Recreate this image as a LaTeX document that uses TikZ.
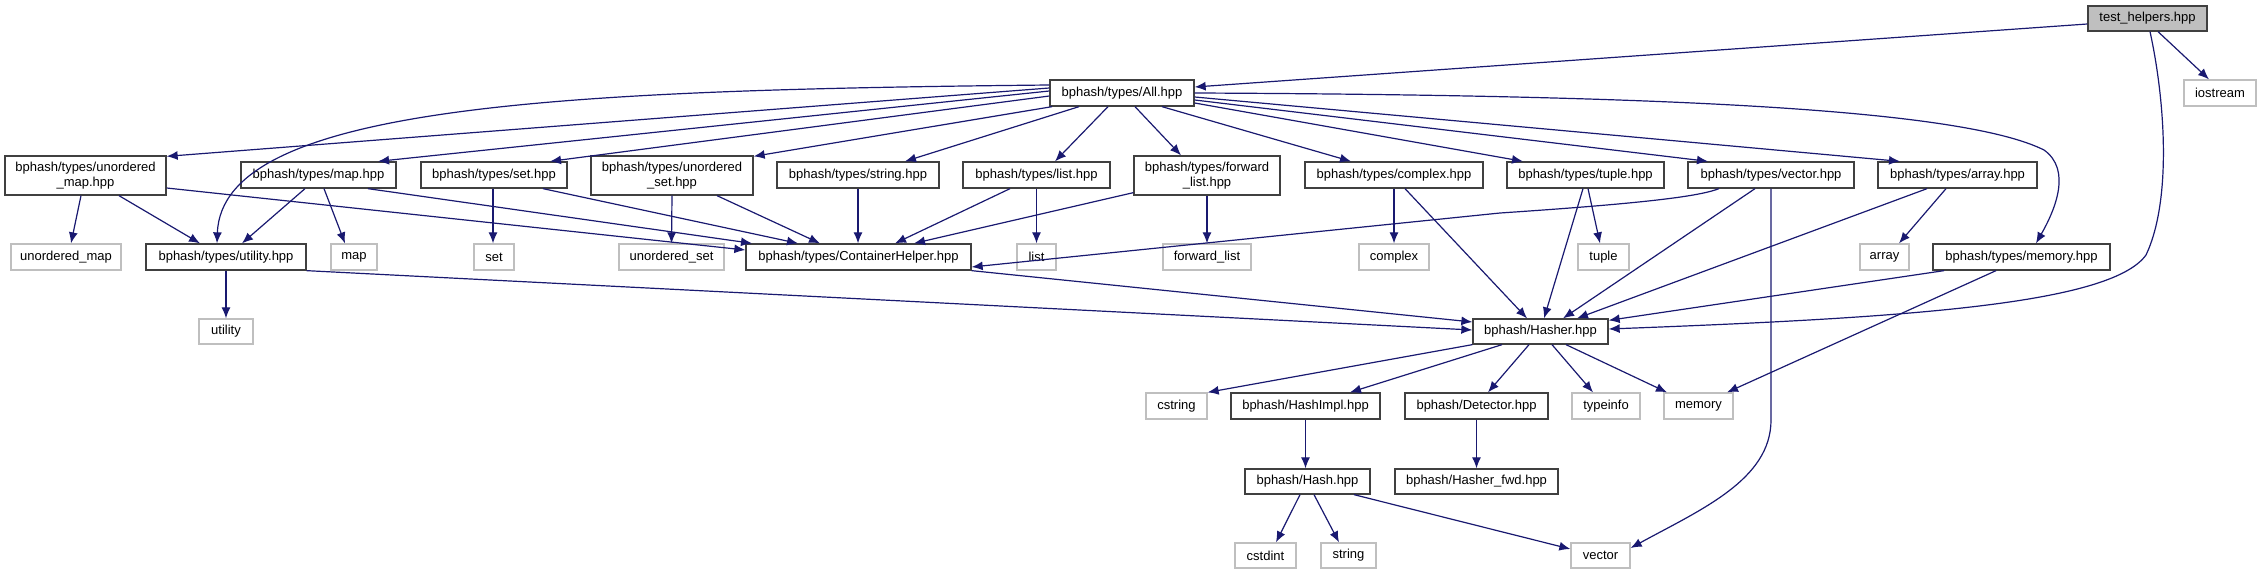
\documentclass[tikz,border=0pt]{standalone}
\usepackage{fontspec}
\setmainfont{Liberation Sans}
\usetikzlibrary{arrows.meta}
\definecolor{edgec}{HTML}{191970}
\definecolor{extc}{HTML}{BFBFBF}
\newcommand\fsz{\fontsize{13pt}{15pt}\selectfont}
\begin{document}
\begin{tikzpicture}[x=1pt,y=-1pt,
  box/.style={draw=black!75, line width=1.3pt, fill=white, inner sep=0pt, minimum height=26pt, align=center, font=\fsz},
  ext/.style={box, draw=extc},
  two/.style={minimum height=39pt},
  rootbox/.style={box, fill=extc},
  e/.style={draw=edgec, line width=1.2pt, -{Latex[length=11pt,width=9pt]}}]
\useasboundingbox (0,0) rectangle (2262,575);
% nodes
\node[rootbox, minimum width=119pt, minimum height=25pt] (root) at (2147.5,18.5) {test\_helpers.hpp};
\node[ext, minimum width=72pt] (iostream) at (2220,93) {iostream};
\node[box, minimum width=144pt] (all) at (1122,93) {bphash/types/All.hpp};
\node[box, two, minimum width=161pt] (umaph) at (85.5,175.5) {bphash/types/unordered\\\_map.hpp};
\node[box, minimum width=155pt] (maph) at (318.5,175) {bphash/types/map.hpp};
\node[box, minimum width=146pt] (seth) at (494,175) {bphash/types/set.hpp};
\node[box, two, minimum width=162pt] (useth) at (672,175.5) {bphash/types/unordered\\\_set.hpp};
\node[box, minimum width=162pt] (stringh) at (858,175) {bphash/types/string.hpp};
\node[box, minimum width=147pt] (listh) at (1036.5,175) {bphash/types/list.hpp};
\node[box, two, minimum width=146pt] (flisth) at (1207,175.5) {bphash/types/forward\\\_list.hpp};
\node[box, minimum width=178pt] (complexh) at (1394,175) {bphash/types/complex.hpp};
\node[box, minimum width=157pt] (tupleh) at (1585.5,175) {bphash/types/tuple.hpp};
\node[box, minimum width=166pt] (vectorh) at (1771,175) {bphash/types/vector.hpp};
\node[box, minimum width=159pt] (arrayh) at (1957.5,175) {bphash/types/array.hpp};
\node[ext, minimum width=110pt] (umap) at (66,257) {unordered\_map};
\node[box, minimum width=160pt] (utilh) at (226,257) {bphash/types/utility.hpp};
\node[ext, minimum width=46pt] (map) at (354,257) {map};
\node[ext, minimum width=40pt] (set) at (494,257) {set};
\node[ext, minimum width=105pt] (uset) at (671.5,257) {unordered\_set};
\node[box, minimum width=225pt] (ch) at (858.5,257) {bphash/types/ContainerHelper.hpp};
\node[ext, minimum width=39pt] (list) at (1036.5,257) {list};
\node[ext, minimum width=88pt] (flist) at (1207,257) {forward\_list};
\node[ext, minimum width=70pt] (complex) at (1394,257) {complex};
\node[ext, minimum width=51pt] (tuple) at (1603.5,257) {tuple};
\node[ext, minimum width=49pt] (array) at (1884.5,257) {array};
\node[box, minimum width=177pt] (memh) at (2021.5,257) {bphash/types/memory.hpp};
\node[ext, minimum width=54pt, minimum height=25pt] (utility) at (226,331.5) {utility};
\node[box, minimum width=135pt, minimum height=25pt] (hasher) at (1540.5,331.5) {bphash/Hasher.hpp};
\node[ext, minimum width=61pt] (cstring) at (1176.5,406) {cstring};
\node[box, minimum width=149pt] (hashimpl) at (1305.5,406) {bphash/HashImpl.hpp};
\node[box, minimum width=143pt] (detector) at (1476.5,406) {bphash/Detector.hpp};
\node[ext, minimum width=68pt] (typeinfo) at (1606,406) {typeinfo};
\node[ext, minimum width=69pt] (memory) at (1698.5,406) {memory};
\node[box, minimum width=125pt, minimum height=25pt] (hash) at (1307.5,481.5) {bphash/Hash.hpp};
\node[box, minimum width=163pt, minimum height=25pt] (hfwd) at (1476.5,481.5) {bphash/Hasher\_fwd.hpp};
\node[ext, minimum width=61pt, minimum height=25pt] (cstdint) at (1265.5,555.5) {cstdint};
\node[ext, minimum width=55pt, minimum height=25pt] (string) at (1348.5,555.5) {string};
\node[ext, minimum width=59pt, minimum height=25pt] (vector) at (1600.5,555.5) {vector};
% edges from root
\draw[e] ([yshift=-5.5pt]root.west) -- ([yshift=6pt]all.east);
\draw[e] ([xshift=10.5pt]root.south) -- ([xshift=-11pt]iostream.north);
\draw[e] ([xshift=2.5pt]root.south) .. controls (2165,100) and (2172,200) .. (2146,255)
  .. controls (2110,305) and (1900,318) .. ([yshift=2.5pt]hasher.east);
% edges from All.hpp
\draw[e] ([yshift=5pt]all.west) -- ([yshift=-1pt]umaph.north east);
\draw[e] ([yshift=8pt]all.west) .. controls (560,90) and (222,105) .. ([xshift=-9pt]utilh.north);
\draw[e] ([yshift=2pt]all.west) -- ([xshift=59.5pt]maph.north);
\draw[e] ([yshift=-3pt]all.west) -- ([xshift=56pt]seth.north);
\draw[e] ([xshift=-70pt]all.south) -- ([yshift=-1pt]useth.north east);
\draw[e] ([xshift=-43pt]all.south) -- ([xshift=47pt]stringh.north);
\draw[e] ([xshift=-14pt]all.south) -- ([xshift=18.5pt]listh.north);
\draw[e] ([xshift=13pt]all.south) -- ([xshift=-26pt]flisth.north);
\draw[e] ([xshift=40pt]all.south) -- ([xshift=-43pt]complexh.north);
\draw[e] ([yshift=-10pt]all.east) -- ([xshift=-62.5pt]tupleh.north);
\draw[e] ([yshift=-7pt]all.east) -- ([xshift=-63pt]vectorh.north);
\draw[e] ([yshift=-4pt]all.east) -- ([xshift=-57.5pt]arrayh.north);
\draw[e] (all.east) .. controls (1650,95) and (1960,108) .. (2044,150)
  .. controls (2072,170) and (2055,210) .. ([xshift=14.5pt]memh.north);
% second level
\draw[e] ([xshift=-4.5pt]umaph.south) -- ([xshift=5pt]umap.north);
\draw[e] ([xshift=33.5pt]umaph.south) -- ([xshift=-26pt]utilh.north);
\draw[e] ([yshift=-12.5pt]umaph.east) -- ([yshift=7pt]ch.west);
\draw[e] ([xshift=-13.5pt]maph.south) -- ([xshift=16pt]utilh.north);
\draw[e] ([xshift=5.5pt]maph.south) -- ([xshift=-9pt]map.north);
\draw[e] ([xshift=49.5pt]maph.south) -- ([xshift=-106.5pt]ch.north);
\draw[e] ([xshift=-1pt]seth.south) -- ([xshift=-1pt]set.north);
\draw[e] ([xshift=49pt]seth.south) -- ([xshift=-60.5pt]ch.north);
\draw[e] (useth.south) -- (uset.north);
\draw[e] ([xshift=45pt]useth.south) -- ([xshift=-38.5pt]ch.north);
\draw[e] (stringh.south) -- (ch.north -| stringh.south);
\draw[e] ([xshift=-26.5pt]listh.south) -- ([xshift=36.5pt]ch.north);
\draw[e] (listh.south) -- (list.north);
\draw[e] ([yshift=3pt]flisth.south west) -- ([xshift=55.5pt]ch.north);
\draw[e] (flisth.south) -- (flist.north);
\draw[e] (complexh.south) -- (complex.north);
\draw[e] ([xshift=11pt]complexh.south) -- ([xshift=-13.5pt]hasher.north);
\draw[e] ([xshift=-2.5pt]tupleh.south) -- ([xshift=3.5pt]hasher.north);
\draw[e] ([xshift=2.5pt]tupleh.south) -- ([xshift=-3.5pt]tuple.north);
\draw[e] ([xshift=-52pt]vectorh.south) .. controls (1700,196) and (1650,203) .. (1500,213) -- ([yshift=-10pt]ch.east);
\draw[e] ([xshift=-16pt]vectorh.south) -- ([xshift=22.5pt]hasher.north);
\draw[e] (vectorh.south) -- (1771,420) .. controls (1771,480) and (1700,510) .. ([yshift=7.5pt]vector.east);
\draw[e] ([xshift=-30.5pt]arrayh.south) -- ([xshift=36.5pt]hasher.north);
\draw[e] ([xshift=-11.5pt]arrayh.south) -- ([xshift=14.5pt]array.north);
\draw[e] ([xshift=-77.5pt]memh.south) -- ([yshift=-2pt]hasher.north east);
\draw[e] ([xshift=-25.5pt]memh.south) -- ([xshift=28.5pt]memory.north);
\draw[e] (utilh.south) -- (utility.north);
\draw[e] (utilh.south east) -- ([yshift=1.5pt]hasher.west);
\draw[e] (ch.south east) -- ([yshift=9.5pt]hasher.west);
% from Hasher
\draw[e] (hasher.south west) -- (cstring.north east);
\draw[e] ([xshift=-38.5pt]hasher.south) -- ([xshift=44.5pt]hashimpl.north);
\draw[e] ([xshift=-11.5pt]hasher.south) -- ([xshift=11.5pt]detector.north);
\draw[e] ([xshift=11.5pt]hasher.south) -- ([xshift=-13pt]typeinfo.north);
\draw[e] ([xshift=25.5pt]hasher.south) -- ([xshift=-31.5pt]memory.north);
\draw[e] (hashimpl.south) -- (hash.north -| hashimpl.south);
\draw[e] (detector.south) -- (hfwd.north);
\draw[e] ([xshift=-7.5pt]hash.south) -- ([xshift=10.5pt]cstdint.north);
\draw[e] ([xshift=6.5pt]hash.south) -- ([xshift=-9.5pt]string.north);
\draw[e] ([xshift=46.5pt]hash.south) -- ([yshift=6.5pt]vector.west);
\end{tikzpicture}
\end{document}
